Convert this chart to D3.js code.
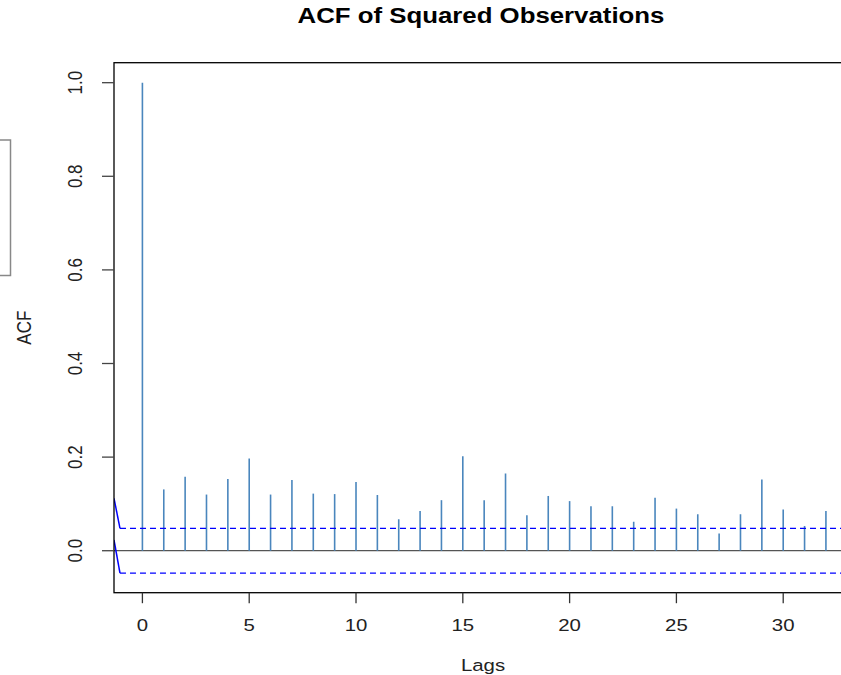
<!DOCTYPE html>
<html>
<head>
<meta charset="utf-8">
<script src="https://cdn.jsdelivr.net/npm/d3@7"></script>
<style>
  body { margin: 0; background: #fff; }
  svg { display: block; font-family: "Liberation Sans", Arial, sans-serif; }
</style>
</head>
<body>
<div id="chart"></div>
<script>
// ACF of squared observations, lags 0..32
const lags = d3.range(0, 33);
const acfValues = [
  1.000, 0.131, 0.158, 0.120, 0.153, 0.197, 0.120, 0.151, 0.122, 0.121,
  0.147, 0.119, 0.067, 0.085, 0.108, 0.202, 0.108, 0.165, 0.076, 0.117,
  0.106, 0.095, 0.095, 0.062, 0.113, 0.090, 0.078, 0.037, 0.078, 0.152,
  0.088, 0.053, 0.085
];
const ciBound = 0.0478;
// short solid segments at the left edge leading into the bounds
const ciLeadLags = [-1.33, -1.05];
const ciLeadUpper = [0.112, 0.0478];
const ciLeadLower = [0.023, -0.0478];
const xTicks = [0, 5, 10, 15, 20, 25, 30];
const yTicks = [0, 0.2, 0.4, 0.6, 0.8, 1.0];

const width = 841, height = 675;
const box = {left: 114, right: 852, top: 62.7, bottom: 592.7};
const sx = 1.2; // text is stretched horizontally in the reference

const svg = d3.select("#chart").append("svg")
    .attr("width", width)
    .attr("height", height);

const x = d3.scaleLinear()
    .domain([-1.33, (box.right - box.left) / 21.36 - 1.33])
    .range([box.left, box.right]);
const y = d3.scaleLinear()
    .domain([-0.0897, 1.0427])
    .range([box.bottom, box.top]);

svg.append("clipPath").attr("id", "plotclip")
  .append("rect")
    .attr("x", box.left).attr("y", box.top)
    .attr("width", box.right - box.left).attr("height", box.bottom - box.top);

const plot = svg.append("g").attr("clip-path", "url(#plotclip)");

// zero line
plot.append("line")
    .attr("x1", box.left).attr("x2", box.right)
    .attr("y1", y(0)).attr("y2", y(0))
    .attr("stroke", "#555").attr("stroke-width", 1.3);

// bars
plot.selectAll("line.bar")
    .data(lags)
    .enter().append("line")
    .attr("class", "bar")
    .attr("x1", d => x(d)).attr("x2", d => x(d))
    .attr("y1", y(0)).attr("y2", d => y(acfValues[d]))
    .attr("stroke", "#4a86bd").attr("stroke-width", 1.6);

// confidence bounds
[ciBound, -ciBound].forEach(v => {
  plot.append("line")
      .attr("x1", x(ciLeadLags[1])).attr("x2", box.right)
      .attr("y1", y(v)).attr("y2", y(v))
      .attr("stroke", "#0000ff").attr("stroke-width", 1.2)
      .attr("stroke-dasharray", "6,4");
});
const lead = d3.line().x(d => x(d[0])).y(d => y(d[1]));
[ciLeadUpper, ciLeadLower].forEach(vals => {
  plot.append("path")
      .attr("d", lead(ciLeadLags.map((l, i) => [l, vals[i]])))
      .attr("fill", "none")
      .attr("stroke", "#0000ff").attr("stroke-width", 1.5);
});

// plot box
svg.append("rect")
    .attr("x", box.left).attr("y", box.top)
    .attr("width", box.right - box.left).attr("height", box.bottom - box.top)
    .attr("fill", "none").attr("stroke", "#000").attr("stroke-width", 1.3);

// x axis
const xAxis = svg.append("g");
xAxis.selectAll("line")
    .data(xTicks).enter().append("line")
    .attr("x1", d => x(d)).attr("x2", d => x(d))
    .attr("y1", box.bottom).attr("y2", box.bottom + 10.5)
    .attr("stroke", "#333").attr("stroke-width", 1.3);
xAxis.selectAll("text")
    .data(xTicks).enter().append("text")
    .attr("transform", d => `translate(${x(d)},${631}) scale(${sx},1)`)
    .attr("text-anchor", "middle")
    .attr("font-size", 17)
    .attr("fill", "#222")
    .text(d => d);

// y axis
const yAxis = svg.append("g");
yAxis.selectAll("line")
    .data(yTicks).enter().append("line")
    .attr("x1", box.left - 12).attr("x2", box.left)
    .attr("y1", d => y(d)).attr("y2", d => y(d))
    .attr("stroke", "#444").attr("stroke-width", 1.3);
yAxis.selectAll("text")
    .data(yTicks).enter().append("text")
    .attr("transform", d => `translate(${82},${y(d)}) scale(${sx},1) rotate(-90)`)
    .attr("text-anchor", "middle")
    .attr("font-size", 17)
    .attr("fill", "#222")
    .text(d => d3.format(".1f")(d));

// axis titles
svg.append("text")
    .attr("transform", `translate(${(box.left + box.right) / 2},${671}) scale(${sx},1)`)
    .attr("text-anchor", "middle")
    .attr("font-size", 17)
    .attr("fill", "#222")
    .text("Lags");
svg.append("text")
    .attr("transform", `translate(${31},${(box.top + box.bottom) / 2}) scale(${sx},1) rotate(-90)`)
    .attr("text-anchor", "middle")
    .attr("font-size", 17)
    .attr("fill", "#222")
    .text("ACF");

// title
svg.append("text")
    .attr("transform", `translate(${(box.left + box.right) / 2 - 2},${23}) scale(${sx},1)`)
    .attr("text-anchor", "middle")
    .attr("font-size", 21.5)
    .attr("font-weight", "bold")
    .attr("fill", "#000")
    .text("ACF of Squared Observations");

// clipped legend frame at the far left
svg.append("rect")
    .attr("x", -10).attr("y", 140)
    .attr("width", 20.5).attr("height", 135.5)
    .attr("fill", "none").attr("stroke", "#888").attr("stroke-width", 1.5);
</script>
</body>
</html>
